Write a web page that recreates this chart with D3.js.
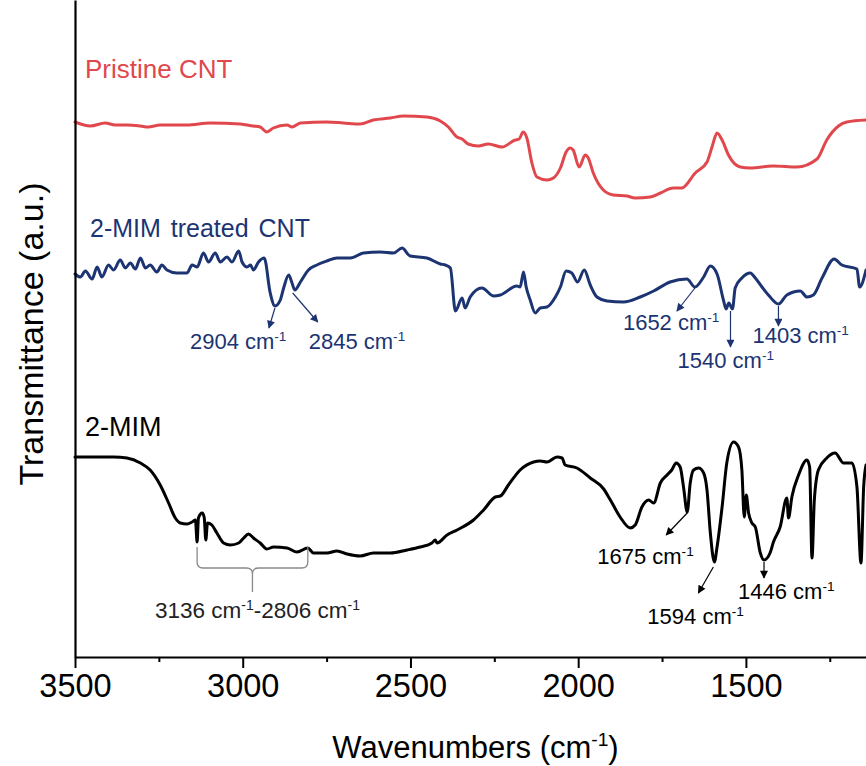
<!DOCTYPE html>
<html>
<head>
<meta charset="utf-8">
<script src="https://cdn.jsdelivr.net/npm/d3@7"></script>
<style>
  html, body { margin: 0; padding: 0; background: #fff; }
  svg { display: block; font-family: "Liberation Sans", Arial, sans-serif; }
</style>
</head>
<body>
<svg id="chart" width="866" height="766"></svg>
<script>
// ---- FTIR spectra (wavenumber in cm-1, transmittance in a.u. with vertical offsets) ----
const pristineWn = [3500,3454,3410,3380,3345,3305,3282,3246,3166,3097,3007,2969,2948,2928,2909,2868,2853,2828,2749,2700,2650,2611,2560,2521,2451,2411,2387,2361,2346,2328,2298,2268,2227,2188,2176,2164,2153,2138,2123,2093,2074,2053,2036,2024,2015,1997,1979,1970,1955,1925,1895,1855,1830,1785,1755,1717,1691,1651,1616,1601,1586,1571,1552,1517,1487,1419,1348,1288,1259,1224,1199,1142];
const pristineT  = [53.5,53.1,53.4,53.2,53.2,53.1,53.0,53.2,53.2,53.4,53.3,53.1,53.0,52.5,52.9,53.2,53.0,53.4,53.5,53.4,53.3,53.7,53.9,54.1,54.0,53.6,53.0,52.0,51.8,51.3,51.1,51.3,51.0,51.7,51.8,52.5,51.9,49.4,48.0,47.7,47.9,48.9,50.5,50.9,50.7,49.0,50.2,49.9,48.4,46.7,46.2,46.1,45.9,46.0,46.4,46.9,46.9,48.4,49.5,51.0,52.4,51.7,50.2,49.0,48.9,49.1,49.0,49.8,51.7,53.1,53.5,53.7];

const treatedWn = [3500,3484,3469,3449,3434,3420,3400,3385,3365,3350,3335,3320,3305,3290,3276,3256,3241,3226,3196,3166,3151,3136,3117,3102,3082,3067,3047,3032,3012,3002,2987,2977,2968,2953,2936,2918,2904,2888,2878,2863,2853,2845,2828,2804,2779,2749,2719,2679,2640,2590,2550,2525,2501,2451,2411,2396,2381,2366,2346,2337,2322,2287,2252,2232,2183,2173,2163,2155,2143,2128,2113,2093,2068,2053,2036,2019,2002,1982,1964,1944,1914,1865,1815,1775,1726,1676,1652,1626,1606,1586,1567,1559,1551,1540,1532,1512,1487,1472,1452,1433,1403,1378,1338,1318,1299,1273,1237,1214,1169,1161,1142];
const treatedT  = [38.3,38.0,38.6,37.8,39.0,38.0,39.2,38.7,39.7,38.9,39.4,38.8,39.9,38.9,39.2,38.5,39.2,38.7,38.4,38.4,39.2,39.0,40.4,39.5,40.4,39.5,40.0,39.5,40.6,39.5,39.0,39.2,38.7,39.5,39.9,36.4,35.1,35.7,36.9,38.2,37.4,36.7,37.5,38.7,39.2,39.6,39.9,39.9,40.4,40.5,40.4,40.9,40.1,39.9,39.3,39.2,38.9,34.6,35.9,34.9,36.0,36.9,36.1,36.2,37.1,37.0,38.5,37.0,35.7,34.4,34.9,35.0,36.0,37.0,38.6,38.4,37.5,38.7,37.2,36.0,35.6,35.5,36.0,36.6,37.5,37.8,37.0,38.0,39.1,38.3,35.7,34.8,35.4,34.8,36.9,37.9,38.4,37.9,37.0,36.2,35.3,36.2,36.6,36.0,36.2,37.9,39.8,39.2,38.8,37.0,38.7];

const mimWn = [3500,3445,3385,3345,3305,3276,3246,3221,3201,3186,3166,3151,3141,3136,3132,3121,3115,3110,3105,3092,3077,3057,3037,3012,2997,2983,2968,2948,2928,2908,2868,2838,2806,2789,2749,2719,2689,2650,2610,2560,2510,2471,2436,2426,2421,2391,2361,2312,2282,2247,2232,2208,2173,2133,2113,2093,2063,2048,2039,2004,1964,1924,1904,1875,1845,1830,1810,1790,1775,1755,1735,1721,1708,1696,1686,1675,1666,1656,1641,1626,1616,1606,1594,1586,1571,1557,1537,1522,1512,1505,1499,1492,1482,1472,1457,1446,1428,1418,1398,1378,1373,1363,1343,1318,1310,1303,1296,1284,1259,1234,1209,1184,1169,1157,1149,1142];
const mimT  = [20.0,20.0,20.0,19.9,19.4,18.7,17.2,15.4,13.9,13.4,13.3,13.5,13.7,11.5,13.9,14.4,14.0,11.7,13.4,13.2,12.4,11.4,11.2,11.4,11.9,12.3,11.9,11.4,10.8,11.0,10.9,10.5,10.9,10.4,10.4,10.6,10.3,10.1,10.4,10.4,10.7,11.0,11.4,11.7,11.4,12.2,12.7,13.7,14.7,16.0,16.1,17.2,18.7,19.5,19.6,19.5,20.0,19.9,19.2,18.9,17.9,16.8,15.7,14.0,12.9,13.2,15.0,15.7,15.4,17.4,18.2,18.7,19.4,19.0,17.0,14.5,17.4,18.7,18.9,18.4,16.7,12.4,9.5,11.0,15.0,19.4,21.5,21.0,18.7,14.0,16.2,14.4,13.4,13.0,10.4,9.7,10.4,11.5,13.0,15.9,13.9,16.0,18.2,19.7,19.0,9.9,15.7,18.7,19.9,20.4,19.4,19.4,17.0,9.4,17.0,19.2];

const seriesNames  = ["Pristine CNT", "2-MIM treated CNT", "2-MIM"];
const majorTicks   = [3500, 3000, 2500, 2000, 1500];
const minorTicks   = [3250, 2750, 2250, 1750, 1250];

// peak assignments: [series index, wavenumber]
const peakSeries = [1, 1, 1, 1, 1, 2, 2, 2];
const peakWn     = [2904, 2845, 1652, 1540, 1403, 1675, 1594, 1446];
const bandRange  = [3136, 2806];   // 2-MIM C-H stretching band

// ---- layout ----
const svg = d3.select("#chart");
const plotL = 75, plotR = 866, plotT = 0, plotB = 657;

const x = d3.scaleLinear().domain([3500, 1142]).range([plotL, plotR]);
const y = d3.scaleLinear().domain([0, 65.7]).range([plotB, plotT]);

const colors = ["#e0484d", "#1c3472", "#000000"];
const data = [
  d3.zip(pristineWn, pristineT),
  d3.zip(treatedWn, treatedT),
  d3.zip(mimWn, mimT)
];

const line = d3.line()
  .x(d => x(d[0]))
  .y(d => y(d[1]))
  .curve(d3.curveMonotoneX);

// spectra
const g = svg.append("g");
data.forEach((s, i) => {
  g.append("path")
    .datum(s)
    .attr("d", line)
    .attr("fill", "none")
    .attr("stroke", colors[i])
    .attr("stroke-width", 3)
    .attr("stroke-linejoin", "round")
    .attr("stroke-linecap", "round");
});

// axes
const xAxis = d3.axisBottom(x).tickValues(majorTicks).tickSize(11).tickSizeOuter(0).tickPadding(6)
  .tickFormat(d3.format("d"));
const xAxisG = svg.append("g").attr("transform", `translate(0,${plotB})`).call(xAxis);
xAxisG.select(".domain").attr("stroke", "#000").attr("stroke-width", 2.2);
xAxisG.selectAll(".tick line").attr("stroke", "#000").attr("stroke-width", 2);
xAxisG.selectAll(".tick text")
  .attr("fill", "#000")
  .style("font-family", "'Liberation Sans', Arial, sans-serif")
  .style("font-size", "32.5px");

const xMinor = d3.axisBottom(x).tickValues(minorTicks).tickSize(5).tickSizeOuter(0).tickFormat("");
const xMinorG = svg.append("g").attr("transform", `translate(0,${plotB})`).call(xMinor);
xMinorG.select(".domain").remove();
xMinorG.selectAll(".tick line").attr("stroke", "#000").attr("stroke-width", 2);

const yAxis = d3.axisLeft(y).tickValues([]).tickSizeOuter(0);
const yAxisG = svg.append("g").attr("transform", `translate(${plotL},0)`).call(yAxis);
yAxisG.select(".domain").attr("stroke", "#000").attr("stroke-width", 2.2);

// helper: "<main><sup>...</sup><tail>"
function supText(sel, main, sup, tail, size) {
  sel.append("tspan").text(main);
  sel.append("tspan").attr("font-size", size * 0.62).attr("dy", -size * 0.38).text(sup);
  if (tail) sel.append("tspan").attr("font-size", size).attr("dy", size * 0.38).text(tail);
}

// axis titles
const xt = svg.append("text")
  .attr("x", (plotL + plotR) / 2 + 5).attr("y", 758)
  .attr("text-anchor", "middle").attr("font-size", 31).attr("fill", "#000");
supText(xt, "Wavenumbers (cm", "-1", ")", 31);

svg.append("text")
  .attr("transform", "translate(43,334) rotate(-90)")
  .attr("text-anchor", "middle").attr("font-size", 34).attr("fill", "#000")
  .text("Transmittance (a.u.)");

// series labels
const labelPos = [[85, 78, 26], [90, 237, 25], [85, 436, 27]];
seriesNames.forEach((name, i) => {
  svg.append("text")
    .attr("x", labelPos[i][0]).attr("y", labelPos[i][1])
    .attr("font-size", labelPos[i][2])
    .attr("fill", colors[i])
    .attr("word-spacing", i === 1 ? 3 : 0)
    .text(name);
});

// arrow markers
const defs = svg.append("defs");
colors.forEach((c, i) => {
  defs.append("marker")
    .attr("id", "arrow" + i)
    .attr("viewBox", "0 0 10 10")
    .attr("refX", 9).attr("refY", 5)
    .attr("markerWidth", 9).attr("markerHeight", 8)
    .attr("markerUnits", "userSpaceOnUse")
    .attr("orient", "auto")
    .append("path").attr("d", "M0,0 L10,5 L0,10 Z").attr("fill", c);
});

// annotation offsets from the peak point: arrow start, arrow tip, label (left, baseline)
const annoLayout = [
  { start: [0, 2],  tip: [-6, 22],  label: [-85, 43] },
  { start: [-2, 3], tip: [23, 32],  label: [14, 59] },
  { start: [0, 1],  tip: [-18, 24], label: [-72, 43] },
  { start: [-2, 2], tip: [-2, 38],  label: [-55, 59] },
  { start: [0, 2],  tip: [0, 22],   label: [-26, 39] },
  { start: [0, 1],  tip: [-21, 23], label: [-90, 52] },
  { start: [-1, 5], tip: [-16, 31], label: [-67, 62] },
  { start: [0, 2],  tip: [0, 18],   label: [-26, 39] }
];

peakWn.forEach((wn, k) => {
  const si = peakSeries[k];
  const pt = data[si].find(d => d[0] === wn);
  const px = x(pt[0]), py = y(pt[1]);
  const L = annoLayout[k];
  svg.append("line")
    .attr("x1", px + L.start[0]).attr("y1", py + L.start[1])
    .attr("x2", px + L.tip[0]).attr("y2", py + L.tip[1])
    .attr("stroke", colors[si]).attr("stroke-width", 1.2)
    .attr("marker-end", `url(#arrow${si})`);
  const t = svg.append("text")
    .attr("x", px + L.label[0]).attr("y", py + L.label[1])
    .attr("font-size", 22).attr("fill", colors[si]);
  supText(t, wn + " cm", "-1", null, 22);
});

// brace under the 2-MIM C-H band
const bx1 = x(bandRange[0]), bx2 = x(bandRange[1]);
const bm = (bx1 + bx2) / 2;
const bTop = 547, bMid = 568, bTip = 592, r = 6;
svg.append("path")
  .attr("d", `M${bx1},${bTop} L${bx1},${bMid - r} Q${bx1},${bMid} ${bx1 + r},${bMid} L${bm - r},${bMid} Q${bm},${bMid} ${bm},${bMid + r} L${bm},${bTip}` +
             ` M${bm},${bMid + r} Q${bm},${bMid} ${bm + r},${bMid} L${bx2 - r},${bMid} Q${bx2},${bMid} ${bx2},${bMid - r} L${bx2},${bTop}`)
  .attr("fill", "none").attr("stroke", "#8a8a8a").attr("stroke-width", 1.3);

const bt = svg.append("text")
  .attr("x", 155).attr("y", 618)
  .attr("font-size", 22.5).attr("fill", "#222");
bt.append("tspan").text(bandRange[0] + " cm");
bt.append("tspan").attr("font-size", 14).attr("dy", -8.5).text("-1");
bt.append("tspan").attr("dy", 8.5).text("-" + bandRange[1] + " cm");
bt.append("tspan").attr("font-size", 14).attr("dy", -8.5).text("-1");
</script>
</body>
</html>
